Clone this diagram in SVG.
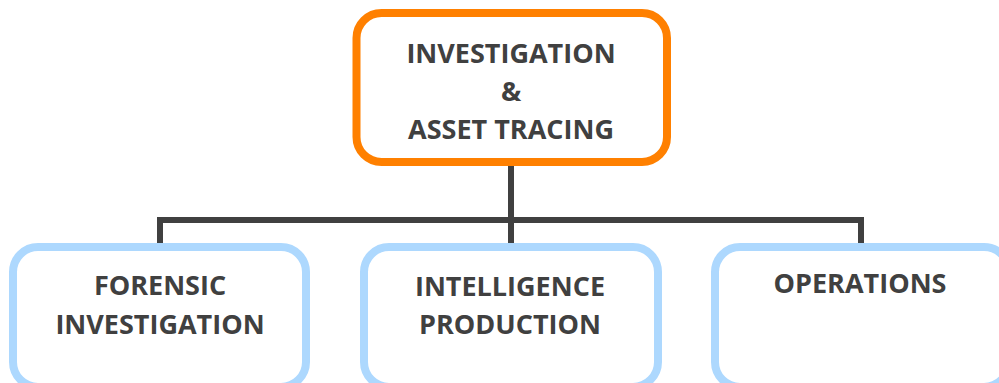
<svg xmlns="http://www.w3.org/2000/svg" width="999" height="383" viewBox="0 0 999 383">
<style>
.t{font-family:"Open Sans","Liberation Sans",sans-serif;font-weight:bold;font-size:27px;fill:#404040;text-anchor:middle}
.child{fill:#fff;stroke:#ADD8FE;stroke-width:8}
.conn{fill:none;stroke:#404040;stroke-width:6}
</style>
<rect width="999" height="383" fill="#fff"/>
<g id="connectors">
<path class="conn" d="M511 163V220M160 220H862M160 217V245M511 217V245M861 217V245"/>
</g>
<g id="root">
<rect x="356.5" y="13" width="310.5" height="149" rx="25" fill="#fff" stroke="#FF8000" stroke-width="8"/>
<text class="t" x="511" y="63">INVESTIGATION</text>
<text class="t" x="511" y="101">&amp;</text>
<text class="t" x="511" y="139">ASSET TRACING</text>
</g>
<g id="forensic">
<rect class="child" x="13" y="247" width="293" height="140" rx="25"/>
<text class="t" x="160" y="295">FORENSIC</text>
<text class="t" x="160" y="334">INVESTIGATION</text>
</g>
<g id="intelligence">
<rect class="child" x="364" y="247" width="294" height="140" rx="25"/>
<text class="t" x="510" y="296">INTELLIGENCE</text>
<text class="t" x="510" y="334">PRODUCTION</text>
</g>
<g id="operations">
<rect class="child" x="715" y="247" width="294" height="140" rx="25"/>
<text class="t" x="860" y="293">OPERATIONS</text>
</g>
</svg>
